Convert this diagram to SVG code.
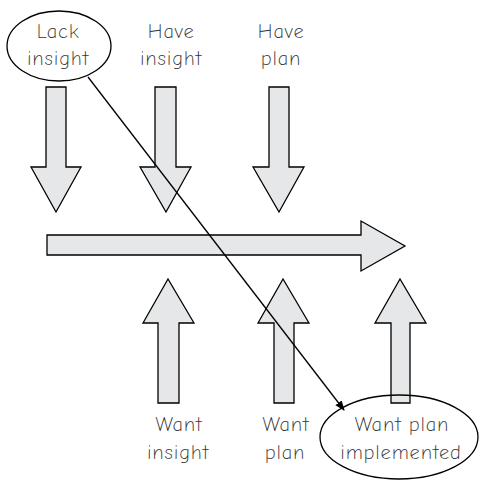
<svg xmlns="http://www.w3.org/2000/svg" width="481" height="482" viewBox="0 0 481 482">
<style>
.arr{fill:#e6e7e8;stroke:#000;stroke-width:1.3;stroke-linejoin:miter}
.t{font-family:"Comic Neue","DejaVu Sans","Liberation Sans",sans-serif;font-size:20px;letter-spacing:0.8px;fill:#333;text-anchor:middle;font-weight:300}
.ell{fill:none;stroke:#000;stroke-width:1.3}
</style>
<defs>
<marker id="ah" markerWidth="10" markerHeight="10" refX="9" refY="4" orient="auto" markerUnits="userSpaceOnUse" viewBox="0 0 10 8">
<path d="M0,0 L10,4 L0,8 Z" fill="#000"/>
</marker>
</defs>
<rect width="481" height="482" fill="#fff"/>
<g id="down1"><path class="arr" d="M46,87 H66 V167 H81 L56,212 L31,167 H46 Z"/></g>
<g id="down2"><path class="arr" d="M155,87 H176 V167 H191 L166,212 L140,167 H155 Z"/></g>
<g id="down3"><path class="arr" d="M269,87 H289 V167 H304 L279,212 L253,167 H269 Z"/></g>
<g id="main"><path class="arr" d="M47,235 H361 V221 L405,246 L361,271 V255 H47 Z"/></g>
<g id="up1"><path class="arr" d="M158,403 V323 H143 L168,279 L194,323 H179 V403 Z"/></g>
<g id="up2"><path class="arr" d="M274,403 V323 H258 L283,279 L309,323 H294 V403 Z"/></g>
<g id="up3"><path class="arr" d="M391,403 V323 H375 L400,279 L426,323 H410 V403 Z"/></g>
<g id="lack">
<ellipse class="ell" cx="59" cy="46" rx="52" ry="35"/>
<text class="t" x="58" y="38">Lack</text>
<text class="t" x="58" y="65">insight</text>
</g>
<g id="haveinsight">
<text class="t" x="171" y="38">Have</text>
<text class="t" x="171" y="65">insight</text>
</g>
<g id="haveplan">
<text class="t" x="281" y="38">Have</text>
<text class="t" x="281" y="65">plan</text>
</g>
<g id="wantinsight">
<text class="t" x="179" y="431">Want</text>
<text class="t" x="178" y="459">insight</text>
</g>
<g id="wantplan">
<text class="t" x="286" y="431">Want</text>
<text class="t" x="285" y="459">plan</text>
</g>
<g id="wantimpl">
<ellipse class="ell" cx="399" cy="437" rx="79" ry="42"/>
<text class="t" x="402" y="431">Want plan</text>
<text class="t" x="401" y="459">implemented</text>
</g>
<g id="connectors">
<line x1="88" y1="77" x2="344" y2="410" stroke="#000" stroke-width="1.3" marker-end="url(#ah)"/>
</g>
</svg>
